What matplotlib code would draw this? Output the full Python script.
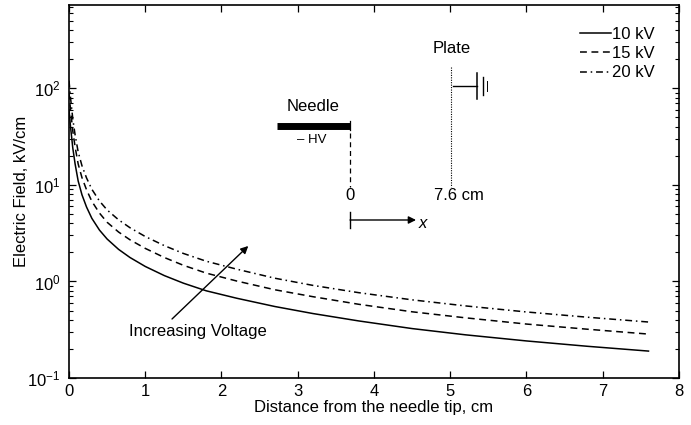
import matplotlib
matplotlib.use("Agg")
import matplotlib.pyplot as plt
from matplotlib.ticker import LogLocator, NullFormatter, FixedLocator

plt.rcParams['font.family'] = ['Liberation Sans', 'DejaVu Sans']
plt.rcParams['mathtext.fontset'] = 'custom'
plt.rcParams['mathtext.rm'] = 'Liberation Sans'
plt.rcParams['mathtext.it'] = 'Liberation Sans:italic'

# ---- data ----
distance_cm = [0, 0.02, 0.05, 0.08, 0.12, 0.17, 0.23, 0.3, 0.4, 0.5, 0.65, 0.8, 1.0,
               1.25, 1.5, 1.8, 2.2, 2.7, 3.2, 3.8, 4.5, 5.2, 6.0, 6.8, 7.6]
field_10kV = [60, 40, 24, 16.5, 11.0, 7.9, 5.9, 4.5, 3.4, 2.75, 2.15, 1.77, 1.43,
              1.15, 0.96, 0.80, 0.67, 0.55, 0.465, 0.39, 0.325, 0.28, 0.242, 0.213, 0.19]
field_15kV = [90, 60, 36, 24.8, 16.5, 11.9, 8.9, 6.75, 5.1, 4.1, 3.25, 2.7, 2.2,
              1.77, 1.47, 1.22, 1.01, 0.82, 0.695, 0.58, 0.485, 0.42, 0.362, 0.32, 0.285]
field_20kV = [120, 80, 48, 33, 22, 15.8, 11.8, 9.0, 6.8, 5.5, 4.35, 3.6, 2.92,
              2.35, 1.95, 1.62, 1.34, 1.08, 0.91, 0.765, 0.645, 0.558, 0.483, 0.426, 0.38]
series_labels = ["10 kV", "15 kV", "20 kV"]
x_ticks = [0, 1, 2, 3, 4, 5, 6, 7, 8]

FS = 12

fig = plt.figure(figsize=(6.91, 4.25), dpi=100)
ax = fig.add_axes([69/691, 47/425, 610/691, 373/425])

lw = 1.1
ax.plot(distance_cm, field_10kV, color='black', lw=lw, ls='-', label=series_labels[0])
ax.plot(distance_cm, field_15kV, color='black', lw=lw, ls=(0, (4.5, 3)), label=series_labels[1])
ax.plot(distance_cm, field_20kV, color='black', lw=lw, ls=(0, (4.5, 2.5, 1, 2.5)), label=series_labels[2])

ax.set_yscale('log')
ax.set_xlim(0, 8)
ax.set_ylim(0.1, 730)
ax.xaxis.set_major_locator(FixedLocator(x_ticks))
ax.set_xticklabels([str(t) for t in x_ticks])
ax.yaxis.set_major_locator(FixedLocator([0.1, 1, 10, 100]))
ax.yaxis.set_minor_locator(LogLocator(base=10, subs=range(2, 10), numticks=20))
ax.yaxis.set_minor_formatter(NullFormatter())
ax.tick_params(which='both', direction='in', top=True, right=True, labelsize=FS)
ax.tick_params(which='major', length=5, width=0.9)
ax.tick_params(which='minor', length=3, width=0.8)
ax.tick_params(axis='x', pad=4)
ax.tick_params(axis='y', pad=6)
for s in ax.spines.values():
    s.set_linewidth(1.2)

ax.set_xlabel("Distance from the needle tip, cm", fontsize=FS, labelpad=1)
ax.set_ylabel("Electric Field, kV/cm", fontsize=FS)
ax.yaxis.set_label_coords(-0.065, 0.5)

leg = ax.legend(loc='upper left', bbox_to_anchor=(0.8377, 0.941), frameon=False,
                fontsize=FS, handlelength=1.85, handletextpad=0.05, labelspacing=0.25,
                borderpad=0, borderaxespad=0)

T = ax.transAxes
# needle
ax.plot([0.3405, 0.4607], [0.6764, 0.6764], color='black', lw=5, solid_capstyle='butt', transform=T)
ax.plot([0.4607, 0.4607], [0.689, 0.665], color='black', lw=0.9, transform=T)
ax.text(0.400, 0.7273, "Needle", transform=T, ha='center', va='center', fontsize=FS)
ax.text(0.398, 0.638, "\u2013 HV", transform=T, ha='center', va='center', fontsize=9.5)
ax.plot([0.4607, 0.4607], [0.6568, 0.512], color='black', lw=0.9, ls=(0, (4, 3)), transform=T)
ax.text(0.4607, 0.488, "0", transform=T, ha='center', va='center', fontsize=FS)
ax.text(0.639, 0.488, "7.6 cm", transform=T, ha='center', va='center', fontsize=FS)
# plate
ax.text(0.628, 0.8847, "Plate", transform=T, ha='center', va='center', fontsize=FS)
ax.plot([0.6262, 0.6262], [0.8346, 0.5129], color='black', lw=0.8, ls=(0, (1, 1.2)), transform=T)
ax.plot([0.6295, 0.6689], [0.7837, 0.7837], color='black', lw=1.0, transform=T)
ax.plot([0.6693, 0.6693], [0.8177, 0.7480], color='black', lw=1.1, transform=T)
ax.plot([0.6782, 0.6782], [0.807, 0.7587], color='black', lw=1.0, transform=T)
ax.plot([0.6857, 0.6857], [0.797, 0.770], color='black', lw=0.7, transform=T)
# x axis arrow
ax.plot([0.4607, 0.4607], [0.4458, 0.4013], color='black', lw=1.0, transform=T)
ax.annotate("", xy=(0.5689, 0.4236), xytext=(0.4607, 0.4236), xycoords=T, textcoords=T,
            arrowprops=dict(arrowstyle='-|>', color='black', lw=1.0, mutation_scale=11,
                            shrinkA=0, shrinkB=0))
ax.text(0.5803, 0.4155, "x", transform=T, ha='center', va='center', fontsize=FS, style='italic')
# increasing voltage
ax.annotate("", xy=(0.2939, 0.3539), xytext=(0.1689, 0.1582), xycoords=T, textcoords=T,
            arrowprops=dict(arrowstyle='-|>', color='black', lw=1.0, mutation_scale=11,
                            shrinkA=0, shrinkB=0))
ax.text(0.2115, 0.1260, "Increasing Voltage", transform=T, ha='center', va='center', fontsize=FS)

fig.savefig("out.png", dpi=100)
